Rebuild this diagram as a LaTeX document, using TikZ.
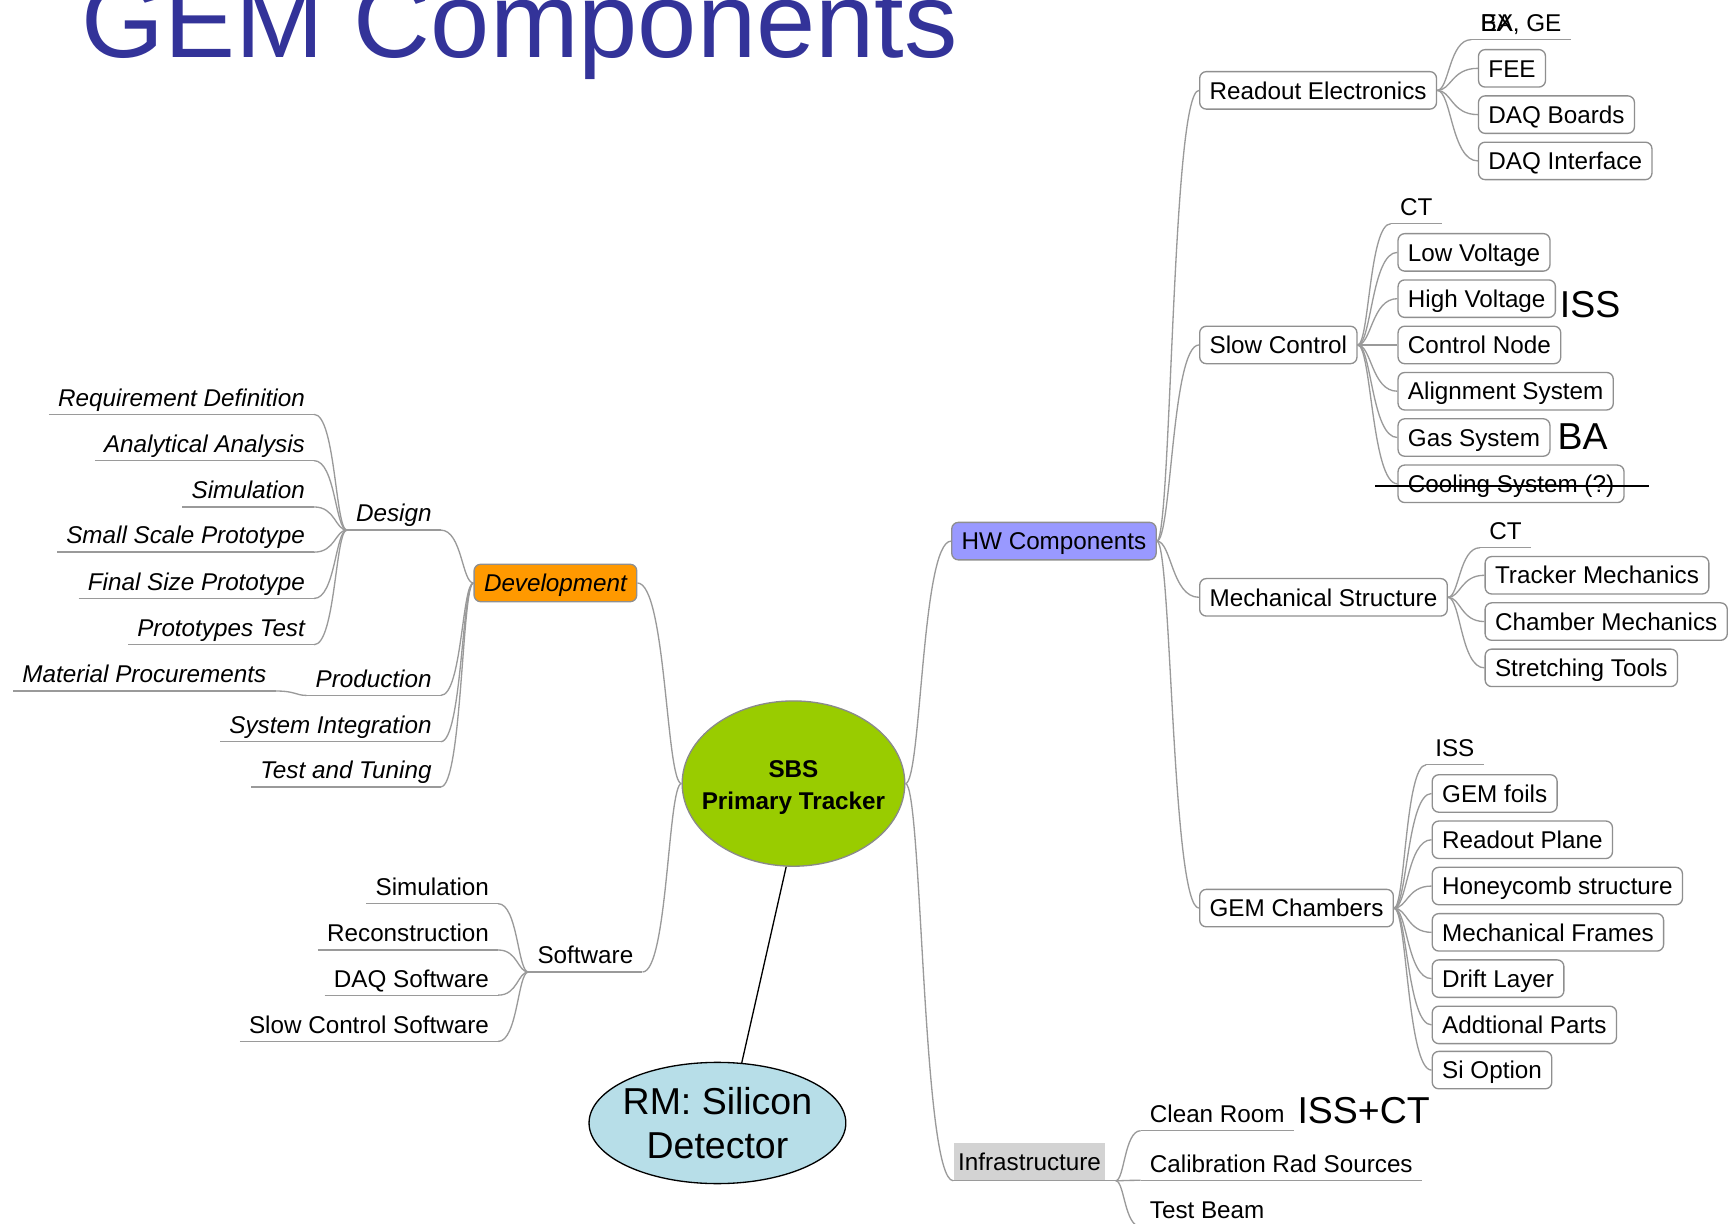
\documentclass[tikz,border=0pt]{standalone}
\usepackage{fontspec}
\setmainfont{Liberation Sans}
\usetikzlibrary{calc,shapes.geometric}

\definecolor{titleblue}{HTML}{333399}
\definecolor{linegray}{HTML}{9A9A9A}
\definecolor{boxgray}{HTML}{8F8F8F}
\definecolor{hwblue}{HTML}{9999FF}
\definecolor{devorange}{HTML}{FF9900}
\definecolor{sbsgreen}{HTML}{99CC00}
\definecolor{sbsborder}{HTML}{8A8A8A}
\definecolor{rmcyan}{HTML}{B7DEE8}
\definecolor{infgray}{HTML}{D3D3D3}

\newcommand\mmfont{\fontsize{11}{13}\selectfont}
\newcommand\bigfont{\fontsize{17}{20}\selectfont}

\tikzset{
  conn/.style={draw=linegray, line width=0.6pt},
  % mind-map branch: leaves and enters horizontally, vertical trunk near the parent
  mmcurve/.style={to path={.. controls ($(\tikztostart)!0.35!(\tikztotarget |- \tikztostart)$)
      and ($(\tikztostart |- \tikztotarget)!0.35!(\tikztotarget)$) .. (\tikztotarget)}},
  box/.style={draw=boxgray, line width=0.6pt, rounded corners=3pt, fill=white,
    minimum height=17pt, inner xsep=4.5pt, text height=7.9pt, text depth=0pt,
    font=\mmfont, anchor=west},
  lab/.style={inner xsep=4pt, inner ysep=3.5pt, text height=7.9pt, text depth=0pt, font=\mmfont},
  labR/.style={lab, anchor=south west},
  labL/.style={lab, anchor=south east},
  devlab/.style={labL, font=\mmfont\itshape},
  note/.style={anchor=base west, inner sep=0pt, font=\bigfont},
}

\begin{document}
\begin{tikzpicture}[x=0.5pt,y=-0.5pt]
\useasboundingbox (0,0) rectangle (1568,1110);
\clip (0,0) rectangle (1568,1110);
\fill[white] (0,0) rectangle (1568,1110);

% title
\node[anchor=base west, inner sep=0pt, text=titleblue, font=\fontsize{48.3}{50}\selectfont]
  (title) at (74,52) {GEM Components};

% central topics
\node[ellipse, draw=sbsborder, line width=0.6pt, fill=sbsgreen, minimum width=101pt,
  minimum height=75pt, inner sep=0pt] (sbs) at (720,711) {};
\node[align=center, inner sep=0pt, font=\fontsize{11}{14.5}\selectfont\bfseries]
  (sbstext) at (720,715) {SBS\\Primary Tracker};
\node[ellipse, draw=black, line width=0.6pt, fill=rmcyan, minimum width=116.5pt,
  minimum height=55pt, inner xsep=-8pt, inner ysep=0pt, align=center, font=\bigfont]
  (rm) at (651,1019) {RM: Silicon\\Detector};
\draw[black, line width=0.6pt] (sbs.265) -- (rm.68);

% ---------- right side: hardware ----------
\node[box, fill=hwblue] (hw) at (863,491) {HW Components};
\node[box] (roe) at (1088,82) {Readout Electronics};
\node[box] (slc) at (1088,313) {Slow Control};
\node[box] (mch) at (1088,542) {Mechanical Structure};
\node[box] (gch) at (1088,824) {GEM Chambers};

\node[labR] (bage) at (1335,36) {BA, GE};
\node[anchor=base west, inner sep=0pt, font=\mmfont] (bagex) at (bage.text) {EX};
\node[box] (fee) at (1341,62) {FEE};
\node[box] (daqb) at (1341,104) {DAQ Boards};
\node[box] (daqi) at (1341,146) {DAQ Interface};

\node[labR] (ctsc) at (1262,203) {CT};
\node[box] (lv) at (1268,229) {Low Voltage};
\node[box] (hv) at (1268,271) {High Voltage};
\node[box] (cnode) at (1268,313) {Control Node};
\node[box] (alsys) at (1268,355) {Alignment System};
\node[box] (gas) at (1268,397) {Gas System};
\node[box] (cool) at (1268,439) {Cooling System (?)};
\draw[black, line width=0.7pt] ($(cool.west)+(-20,2)$) -- ($(cool.east)+(22,2)$);

\node[labR] (ctms) at (1343,497) {CT};
\node[box] (tmech) at (1347,522) {Tracker Mechanics};
\node[box] (cmech) at (1347,564) {Chamber Mechanics};
\node[box] (stools) at (1347,606) {Stretching Tools};

\node[labR] (issgc) at (1294,694) {ISS};
\node[box] (gfoil) at (1299,720) {GEM foils};
\node[box] (rplane) at (1299,762) {Readout Plane};
\node[box] (honey) at (1299,804) {Honeycomb structure};
\node[box] (frames) at (1299,846) {Mechanical Frames};
\node[box] (drift) at (1299,888) {Drift Layer};
\node[box] (addp) at (1299,930) {Addtional Parts};
\node[box] (sio) at (1299,971) {Si Option};

\node[anchor=west, fill=infgray, minimum height=17pt, inner xsep=2pt, text height=7.9pt,
  text depth=0pt, font=\mmfont] (inf) at (865,1054) {Infrastructure};
\coordinate (inffan) at ($(inf.south east)+(9,0)$);
\node[labR] (clean) at (1035,1026) {Clean Room};
\node[labR] (calib) at (1035,1071) {Calibration Rad Sources};
\node[labR] (tbeam) at (1035,1113) {Test Beam};

% assignment notes
\node[note] (nISS) at (1415,288) {ISS};
\node[note] (nBA) at (1413,408) {BA};
\node[note] (nISSCT) at (1177,1019) {ISS+CT};

% ---------- left side: development and software ----------
\node[box, anchor=center, fill=devorange, font=\mmfont\itshape] (dev) at (504,529) {Development};
\node[devlab] (design) at (400,481) {Design};
\node[devlab] (prod) at (400,631) {Production};
\node[devlab] (sysint) at (400,673) {System Integration};
\node[devlab] (ttune) at (400,714) {Test and Tuning};

\node[devlab] (reqd) at (285,376) {Requirement Definition};
\node[devlab] (anal) at (285,418) {Analytical Analysis};
\node[devlab] (simd) at (285,460) {Simulation};
\node[devlab] (sscale) at (285,501) {Small Scale Prototype};
\node[devlab] (fsize) at (285,543) {Final Size Prototype};
\node[devlab] (ptest) at (285,585) {Prototypes Test};
\node[devlab] (matp) at (250,627) {Material Procurements};

\node[labL] (soft) at (583,882) {Software};
\node[labL] (simsw) at (452,820) {Simulation};
\node[labL] (recon) at (452,862) {Reconstruction};
\node[labL] (daqsw) at (452,903) {DAQ Software};
\node[labL] (scsw) at (452,945) {Slow Control Software};

% ---------- branches ----------
\draw[conn] (sbs.west) to[mmcurve] (dev.east);
\draw[conn] (sbs.west) to[mmcurve] (soft.south east);
\draw[conn] (sbs.east) to[mmcurve] (hw.west);
\draw[conn] (sbs.east) to[mmcurve] (inf.south west);
\draw[conn] (inf.south west) -- (inffan);

\foreach \n in {roe,slc,mch,gch} \draw[conn] (hw.east) to[mmcurve] (\n.west);
\foreach \n in {fee,daqb,daqi} \draw[conn] (roe.east) to[mmcurve] (\n.west);
\draw[conn] (roe.east) to[mmcurve] (bage.south west);
\foreach \n in {lv,hv,cnode,alsys,gas,cool} \draw[conn] (slc.east) to[mmcurve] (\n.west);
\draw[conn] (slc.east) to[mmcurve] (ctsc.south west);
\foreach \n in {tmech,cmech,stools} \draw[conn] (mch.east) to[mmcurve] (\n.west);
\draw[conn] (mch.east) to[mmcurve] (ctms.south west);
\foreach \n in {gfoil,rplane,honey,frames,drift,addp,sio} \draw[conn] (gch.east) to[mmcurve] (\n.west);
\draw[conn] (gch.east) to[mmcurve] (issgc.south west);
\foreach \n in {clean,calib,tbeam} \draw[conn] (inffan) to[mmcurve] (\n.south west);

\foreach \n in {design,prod,sysint,ttune} \draw[conn] (dev.west) to[mmcurve] (\n.south east);
\foreach \n in {reqd,anal,simd,sscale,fsize,ptest} \draw[conn] (design.south west) to[mmcurve] (\n.south east);
\draw[conn] (prod.south west) to[mmcurve] (matp.south east);
\foreach \n in {simsw,recon,daqsw,scsw} \draw[conn] (soft.south west) to[mmcurve] (\n.south east);

% underlines of the plain-text topics
\foreach \n in {bage,ctsc,ctms,issgc,clean,calib,tbeam,design,prod,sysint,ttune,
  reqd,anal,simd,sscale,fsize,ptest,matp,soft,simsw,recon,daqsw,scsw}
  \draw[conn] (\n.south west) -- (\n.south east);
\end{tikzpicture}
\end{document}
